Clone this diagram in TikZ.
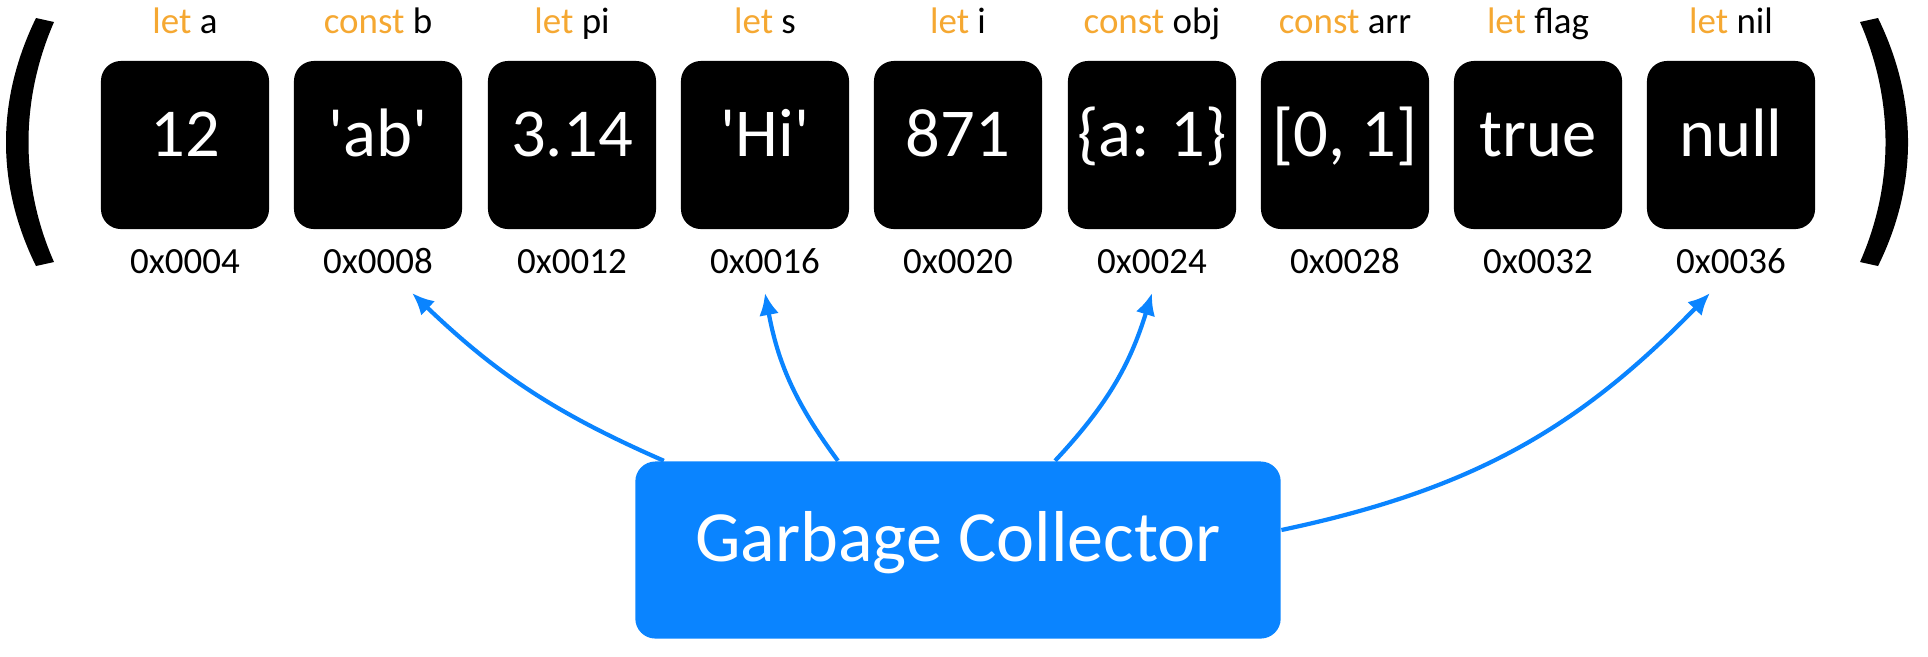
\documentclass[tikz,border=0pt]{standalone}
\usepackage{fontspec}
\setmainfont{Carlito}
\usepackage{xcolor}
\usepackage{tikz}
\usetikzlibrary{arrows.meta,positioning}
\definecolor{KeyOrange}{HTML}{F5A832}
\definecolor{GcBlue}{HTML}{0A84FF}
\newcommand{\kw}[1]{\textcolor{KeyOrange}{#1}}

\begin{document}
\begin{tikzpicture}[x=0.01cm,y=-0.01cm,
  cell/.style={fill=black,rounded corners=0.2cm,minimum width=1.68cm,minimum height=1.68cm,inner sep=0pt,text=white,font=\fontsize{19.5}{22}\selectfont,text height=0.632em,text depth=0pt},
  varname/.style={anchor=base,inner sep=0pt,font=\fontsize{10.5}{12}\selectfont},
  addr/.style={anchor=base,inner sep=0pt,font=\fontsize{10.5}{12}\selectfont},
  gc/.style={fill=GcBlue,rounded corners=0.2cm,minimum width=6.45cm,minimum height=1.77cm,inner sep=0pt,text=white,font=\fontsize{20.5}{24}\selectfont,text height=0.632em,text depth=-2.8pt},
  arrow/.style={-{Latex[length=2.2mm,width=2mm]},line width=1.2pt,draw=GcBlue}
]
\useasboundingbox (0,0) rectangle (1928,656);
\fill (36,18) .. controls (-4,100) and (-4,185) .. (36,266) -- (54,262) .. controls (20,185) and (20,100) .. (54,22) -- cycle;
\fill (1878,18) .. controls (1918,100) and (1918,185) .. (1878,266) -- (1860,262) .. controls (1894,185) and (1894,100) .. (1860,22) -- cycle;
\node[cell] (a) at (185,145) {12};
\node[cell] (b) at (378,145) {\textquotesingle ab\textquotesingle};
\node[cell] (pi) at (572,145) {3.14};
\node[cell] (s) at (765,145) {\textquotesingle Hi\textquotesingle};
\node[cell] (i) at (958,145) {871};
\node[cell] (obj) at (1152,145) {\{a: 1\}};
\node[cell] (arr) at (1345,145) {[0, 1]};
\node[cell] (flag) at (1538,145) {true};
\node[cell] (nil) at (1731,145) {null};
\node[varname] (nm-a) at (185,33) {\kw{let} a};
\node[varname] (nm-b) at (378,33) {\kw{const} b};
\node[varname] (nm-pi) at (572,33) {\kw{let} pi};
\node[varname] (nm-s) at (765,33) {\kw{let} s};
\node[varname] (nm-i) at (958,33) {\kw{let} i};
\node[varname] (nm-obj) at (1152,33) {\kw{const} obj};
\node[varname] (nm-arr) at (1345,33) {\kw{const} arr};
\node[varname] (nm-flag) at (1538,33) {\kw{let} flag};
\node[varname] (nm-nil) at (1731,33) {\kw{let} nil};
\node[addr] (ad-a) at (185,273) {0x0004};
\node[addr] (ad-b) at (378,273) {0x0008};
\node[addr] (ad-pi) at (572,273) {0x0012};
\node[addr] (ad-s) at (765,273) {0x0016};
\node[addr] (ad-i) at (958,273) {0x0020};
\node[addr] (ad-obj) at (1152,273) {0x0024};
\node[addr] (ad-arr) at (1345,273) {0x0028};
\node[addr] (ad-flag) at (1538,273) {0x0032};
\node[addr] (ad-nil) at (1731,273) {0x0036};
\node[gc] (collector) at (958,550) {Garbage Collector};
\draw[arrow] ([xshift=-2.94cm]collector.north) to[bend left=10] ([xshift=0.34cm,yshift=-0.2cm]ad-b.base);
\draw[arrow] ([xshift=-1.2cm]collector.north) to[bend left=13] ([yshift=-0.2cm]ad-s.base);
\draw[arrow] ([xshift=0.97cm]collector.north) to[bend right=13] ([yshift=-0.2cm]ad-obj.base);
\draw[arrow] ([yshift=0.2cm]collector.east) to[bend right=17] ([xshift=-0.21cm,yshift=-0.2cm]ad-nil.base);
\end{tikzpicture}
\end{document}
